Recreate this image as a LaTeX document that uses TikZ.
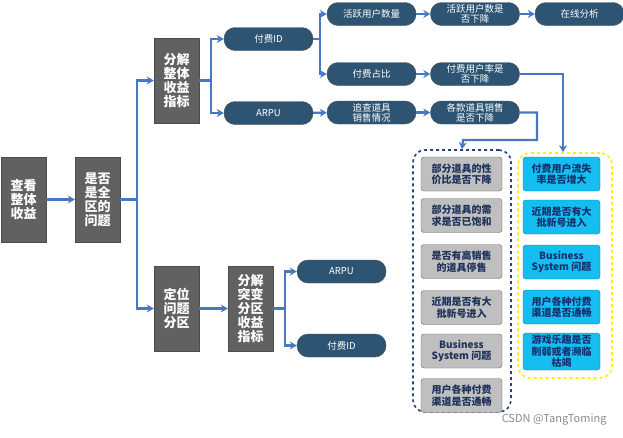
\documentclass[tikz,border=0pt]{standalone}
\usepackage{fontspec}
\setmainfont{Noto Sans CJK SC}
\usetikzlibrary{arrows.meta}
\begin{document}
\begin{tikzpicture}[x=1pt,y=-1pt,
 gbox/.style={draw=gray!60!black,fill=black!62,text=white,font=\bfseries\fontsize{13}{14}\selectfont,minimum width=45,minimum height=85,align=center,inner sep=1},
 pill/.style={draw=black!70,fill={rgb,255:red,45;green,85;blue,115},rounded corners=11,text=white,font=\fontsize{9.5}{10}\selectfont,minimum width=89,minimum height=23,align=center,inner sep=0},
 lbox/.style={draw=black!60,fill=black!25,rounded corners=3,text={rgb,255:red,30;green,50;blue,90},font=\bfseries\fontsize{10}{11.5}\selectfont,minimum width=81,minimum height=34,align=center,inner sep=0},
 cbox/.style={draw={rgb,255:red,0;green,130;blue,190},fill={rgb,255:red,20;green,190;blue,240},rounded corners=3,text={rgb,255:red,20;green,50;blue,110},font=\bfseries\fontsize{10}{11.5}\selectfont,minimum width=77,minimum height=34,align=center,inner sep=0},
 ar/.style={draw={rgb,255:red,70;green,120;blue,195},line width=2.2,-{Stealth[length=7,width=8]}},
 ln/.style={draw={rgb,255:red,70;green,120;blue,195},line width=2.2}]
\useasboundingbox (0,0) rectangle (623,437);
\fill[white] (0,0) rectangle (623,437);
\node[gbox] (a) at (23.5,199.5) {查看\\整体\\收益};
\node[gbox] (b) at (97.5,199.5) {是否\\是全\\区的\\问题};
\node[gbox] (c) at (176.5,80.5) {分解\\整体\\收益\\指标};
\node[gbox] (d) at (176.5,308.5) {定位\\问题\\分区};
\node[gbox] (e) at (250.5,308.5) {分解\\突变\\分区\\收益\\指标};
\node[pill] (f) at (268.5,39) {付费ID};
\node[pill] (g) at (268.5,113) {ARPU};
\node[pill] (h) at (371.5,14) {活跃用户数量};
\node[pill] (i) at (475,14) {活跃用户数是\\否下降};
\node[pill] (j) at (579.5,14) {在线分析};
\node[pill] (k) at (371.5,74) {付费占比};
\node[pill] (l) at (475,74) {付费用户率是\\否下降};
\node[pill] (m) at (371.5,112.5) {追查道具\\销售情况};
\node[pill] (n) at (475,112.5) {各款道具销售\\是否下降};
\node[pill] (o) at (341.5,271.5) {ARPU};
\node[pill] (p) at (341.5,345.5) {付费ID};
\node[draw={rgb,255:red,40;green,70;blue,120},dashed,line width=1.6,rounded corners=12,minimum width=98,minimum height=262] (G1) at (462,281) {};
\node[draw=yellow,dashed,line width=1.6,rounded corners=12,minimum width=94,minimum height=225] (G2) at (565,265.5) {};
\node[lbox] (q1) at (461.5,174) {部分道具的性\\价比是否下降};
\node[lbox] (q2) at (461.5,215.5) {部分道具的需\\求是否已饱和};
\node[lbox] (q3) at (461.5,261.5) {是否有高销售\\的道具停售};
\node[lbox] (q4) at (461.5,307.5) {近期是否有大\\批新号进入};
\node[lbox] (q5) at (461.5,351) {Business\\System 问题};
\node[lbox] (q6) at (461.5,395.5) {用户各种付费\\渠道是否通畅};
\node[cbox] (r1) at (561.5,174) {付费用户流失\\率是否增大};
\node[cbox] (r2) at (561.5,217) {近期是否有大\\批新号进入};
\node[cbox] (r3) at (561.5,262) {Business\\System 问题};
\node[cbox] (r4) at (561.5,307) {用户各种付费\\渠道是否通畅};
\node[cbox,minimum height=37] (r5) at (561.5,351.5) {游戏乐趣是否\\削弱或者濒临\\枯竭};
\node[text=black!45,font=\fontsize{11}{12}\selectfont,anchor=east] (w) at (610,420) {CSDN @TangToming};
\coordinate (b1) at (137,199.5);
\draw[ln] (b.east) -- (b1);
\draw[ar] (b1) |- (c.west);
\draw[ar] (b1) |- (d.west);
\draw[ar] (a) -- (b);
\draw[ar] (d) -- (e);
\coordinate (c1) at (211,80.5);
\draw[ln] (c.east) -- (c1);
\draw[ar] (c1) |- (f.west);
\draw[ar] (c1) |- (g.west);
\coordinate (e1) at (285,308.5);
\draw[ln] (e.east) -- (e1);
\draw[ar] (e1) |- (o.west);
\draw[ar] (e1) |- (p.west);
\coordinate (f1) at (320,39);
\draw[ln] (f.east) -- (f1);
\draw[ar] (f1) |- (h.west);
\draw[ar] (f1) |- (k.west);
\draw[ar] (g) -- (m);
\draw[ar] (h) -- (i);
\draw[ar] (i) -- (j);
\draw[ar] (k) -- (l);
\draw[ar] (m) -- (n);
\draw[ar] (l.east) -| (G2.north-|563,0);
\coordinate (n1) at (537,112.5);
\coordinate (n2) at (537,140);
\coordinate (n3) at (463,140);
\draw[ar] (n.east) -- (n1) -- (n2) -- (n3) -- (G1.north);
\end{tikzpicture}
\end{document}
